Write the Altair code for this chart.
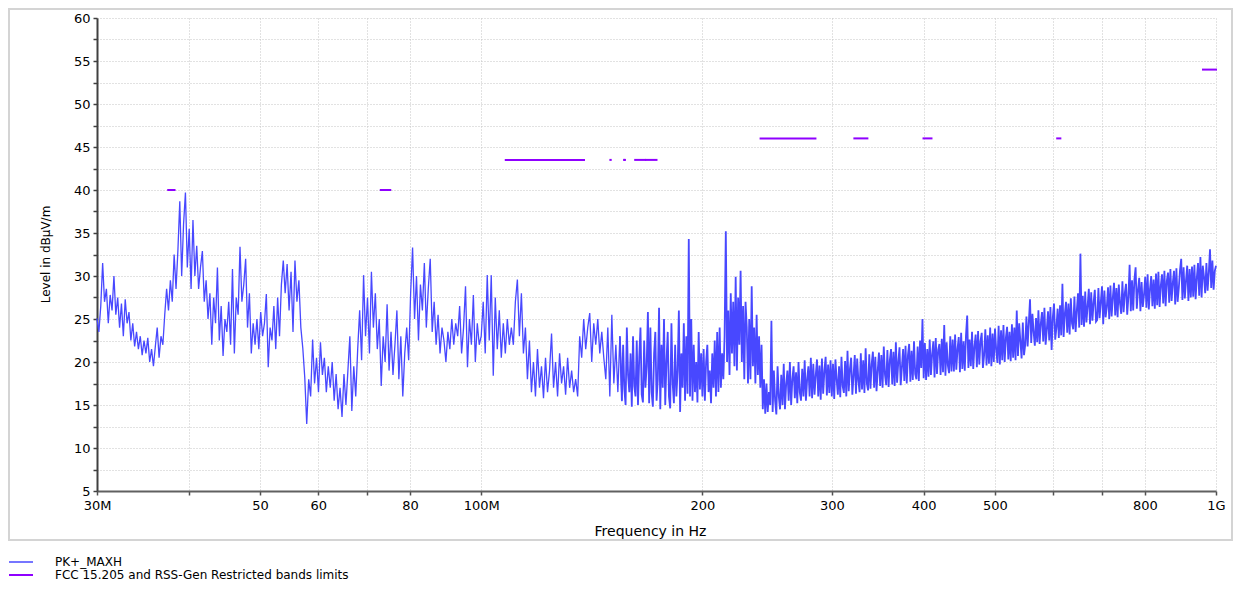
import altair as alt
import pandas as pd

# ---------------- data ----------------
# Sweep regions (MHz); the levels inside each region are read off the trace
region_bounds_mhz = [30, 54.1, 100, 155.4, 200, 300, 550, 1000]

levels_30_54 = [
    25, 23.5, 26.5, 31.5, 27, 28.5, 24.5, 27.8, 26, 30,
    25.5, 27.5, 24, 26.8, 23, 27.3, 24.5, 25.8, 22.5, 24.5,
    21.8, 23.5, 21.5, 23, 20.8, 22.5, 21, 22.8, 20, 21.5,
    19.5, 21.8, 24, 20.5, 23, 22, 25.5, 28.5, 26, 29.5,
    27, 32.5, 28.5, 33, 38.7, 30, 36, 39.7, 31, 35.5,
    28.5, 36.5, 30, 33.5, 28.5, 31, 32.9, 27, 29.5, 25,
    28, 22, 27.5, 24.5, 31, 22.5, 26.5, 20.7, 25, 23.5,
    27, 22, 30.8, 21, 27.5, 25.5, 33.4, 27, 29, 32,
    24, 28, 21, 24.5, 22, 25, 21.5, 25.8, 23, 24.5,
    27.9, 19.4, 24, 22.5, 26.5, 21.5, 27.5, 23, 29, 31.8,
]

levels_54_100 = [
    28, 31.4, 26, 30.5, 23.5, 31.8, 27, 29.5,
    24, 21.6, 18.2,
    12.8,
    18, 16, 22.6, 17.5, 20.5,
    16.5, 22.3, 18.5, 20.5, 16.5, 19.5, 17, 20,
    15.5, 18.6, 14.5, 17, 13.6, 18.6, 15,
    19, 23, 14.3, 19.5, 16, 21.5,
    26, 20.2, 30.1, 23, 27.5, 21, 30.5, 24, 28, 21.5,
    25, 17.2, 23, 20, 26.7, 19, 23.5, 18.5, 22, 26, 18, 23, 16, 21, 24,
    20.2, 28, 33.3, 25, 30, 22.5, 29, 26, 31.5, 24, 28.5, 32, 23.5, 27, 22, 25.5,
    21, 24, 22.5, 20, 23.5, 21.5, 25, 22, 24.5, 23, 26.5, 21, 24, 28.8, 19.4,
    25, 22, 27.8, 20, 24.5, 22,
]

levels_100_155 = [
    23, 27, 21, 30.1, 22.5, 30.1, 18.4, 27.5, 21.5, 26, 20.5,
    24.5, 21, 25, 22, 24,
    22, 27, 29.6, 23, 28,
    21, 24, 18, 22.5, 16.5,
    20, 16, 21.5, 17, 19.5, 15.8, 20.5, 16.5, 19, 23.3,
    17, 20, 16, 21, 17.5, 19.5, 16.2, 20.5, 17, 19,
    16.5, 18, 16,
    23, 20.5, 25, 21.5, 24, 25.7, 20, 24.5, 22, 25, 21, 23.5, 20.5,
    18, 24, 16, 25.5, 17.5, 22, 16.5, 23,
]

levels_155_200 = [
    15.5, 22, 16.8, 15, 24, 18.5, 16.5, 21, 14.8, 23,
    17.2, 16, 22.5, 15, 20.5, 24, 16.2, 15.3, 22.5, 17,
    19.5, 25.8, 15.2, 24, 16.5, 14.8, 21, 23.5, 15.5, 18,
    26.3, 14.5, 22, 17, 25, 15, 20, 23.5, 16, 14.6,
    24.5, 17.5, 15.2, 22, 16, 19, 26, 14.2, 21, 17,
    24.5, 15.5, 23, 16.3, 34.3, 16, 25, 15.5, 22, 16.5,
    20, 15.3, 23.5, 16.8, 21,
]

levels_200_300 = [
    16, 21.5, 15.5, 20, 22, 16.5, 19, 15.2, 21, 17, 22.5, 16,
    23.5, 16.5, 24, 17, 21, 18, 23,
    35.2,
    20, 26, 18.5, 28, 21, 27, 19.5, 29.9, 19, 27.5,
    22, 30.6, 20, 26.5, 18, 27, 24, 17.5, 25, 18,
    28.8, 19.5, 24, 17.5, 25.5, 18.5, 23, 17, 22,
    14.5, 18, 14, 17.5, 14.2, 16.5,
    15, 24.8,
    14.2, 19, 15.5, 13.9, 19.5, 16, 14.5, 18.5, 15, 19.8,
    14.5, 17.5, 19, 15.5, 20, 15, 18, 19.5, 15.8, 18.8,
    15.2, 20, 16.5, 15.5, 19.2, 16, 20.2, 15.5, 18, 19.5,
    16, 20.5, 15.8, 19.8, 16.2, 18.5, 20.3, 16, 19.6, 15.6,
    20.4, 16.3, 19, 20.6, 16.1, 19.7, 16.4, 20.2,
]

levels_300_550 = [
    16, 19.8, 15.7, 20.3, 18, 16.2, 19.5, 15.9, 20.6, 17.2,
    16.4, 20.1, 16, 21.3, 16.6, 19.2, 20.5, 16.2, 18.4, 20.8,
    16.3, 20.4, 17.8, 16.5, 21, 16.8, 20.2, 16.4, 21.6, 17.5,
    16.7, 20.9, 16.9, 19.8, 21.2, 17, 20.6, 16.6, 19, 21.1,
    17.2, 20.8, 17, 21.8, 18.5, 17.3, 21.4, 17.1, 20.2, 21.5,
    17.4, 21.2, 17.2, 22.3, 17.6, 20, 21.7, 17.3, 19.4, 21.5,
    17.8, 21.9, 17.5, 20.8, 22.1, 17.7, 21.3, 17.9, 22.4, 18.6,
    18, 21.8, 17.8, 22.5, 19.3, 25, 18.1, 22.2, 17.9, 21.5,
    18.3, 22.6, 18.5, 20.9, 22.4, 18.2, 22.8, 18.6, 21.4, 22.1,
    18.5, 22.7, 18.8, 24.3, 18.4, 22.3, 19.6, 18.7, 23, 18.9,
    22.6, 18.9, 23.2, 19.1, 21.5, 22.9, 18.8, 23.4, 19.2, 22.4,
    19, 23.1, 25.4, 19.3, 22.6, 19.5, 23.5, 19.2, 21.8, 23.2,
    19.4, 23.6, 19.7, 22.4, 23.4, 19.3, 20.8, 23.8, 19.6, 23.1,
    19.8, 24, 19.5, 23.3, 20, 23.9, 21.4, 19.9, 24.2, 19.7,
    23.7, 20.2, 24.3, 20, 22.8, 24.1, 20.3, 23.5, 20.1, 24.4,
    20.5, 24, 20.2, 26, 20.7, 24.5, 22.4, 20.4, 24.6, 20.8,
]

levels_550_1000 = [
    22, 25.3, 21.8, 24.6, 27.3, 22.2, 25.6, 23.5, 21.9, 25.1,
    22.3, 26, 22.1, 24.5, 25.8, 22.4, 26.3, 22, 23.8, 25.9,
    22.5, 26.4, 21.4, 25.2, 26.8, 22.6, 24, 26.2, 22.8, 26.6,
    23.1, 29.1, 22.9, 25.6, 27, 23.4, 26.8, 23.2, 27.4, 24.5,
    23.8, 27.6, 23.5, 26, 28, 24, 32.6, 24.3, 27.7, 24.1,
    28.2, 24.6, 26.5, 28.5, 24.4, 28.1, 24.8, 26.9, 28.4, 24.7,
    24.9, 28.6, 25.1, 27, 28.8, 24.4, 28.3, 25.2, 26.4, 28.7,
    25, 28.9, 25.3, 27.5, 29.2, 25.4, 28.6, 25.2, 29, 26.8,
    25.6, 29.4, 25.8, 28, 29.1, 25.5, 27.6, 31.3, 25.9, 29.5,
    26, 29.6, 31, 26.2, 28.4, 29.8, 25.9, 29.3, 26.4, 27.8,
    29.9, 26.3, 30.2, 26.1, 28.5, 30, 26.5, 29.6, 26.2, 30.3,
    26.6, 30.5, 26.4, 28.9, 30.2, 26.8, 30.6, 26.5, 29.4, 30.4,
    26.9, 30.8, 27.1, 29.2, 30.6, 26.7, 30.9, 27, 28.6, 30.7,
    32, 27.2, 31, 27.4, 29.5, 31.2, 27.1, 30.8, 27.5, 31.1,
    27.6, 31.3, 27.3, 29.8, 31.5, 27.7, 32.2, 27.5, 31.2, 29.9,
    28, 31.5, 28.3, 30.4, 33.1, 28.6, 31.8, 28.4, 30.6, 31.2,
]

# Restricted-band limit segments (MHz, dBuV/m)
limit_start_mhz = [37.5, 73, 74.8, 108, 149.9, 156.52475, 156.7, 162.0125, 167.72, 240, 322, 399.9, 608, 960]
limit_stop_mhz = [38.25, 74.6, 75.2, 138, 150.05, 156.52525, 156.9, 167.17, 173.2, 285, 335.4, 410, 614, 1000]
limit_level = [40, 40, 40, 43.5, 43.5, 43.5, 43.5, 43.5, 43.5, 46, 46, 46, 46, 54]

series_names = ["PK+_MAXH", "FCC 15.205 and RSS-Gen Restricted bands limits"]
series_colors = ["#4848ff", "#8f00ff"]

x_tick_values = [30, 40, 50, 60, 70, 80, 100, 200, 300, 400, 500, 600, 700, 800, 1000]
y_tick_values = [5, 7.5, 10, 12.5, 15, 17.5, 20, 22.5, 25, 27.5, 30, 32.5, 35, 37.5,
                 40, 42.5, 45, 47.5, 50, 52.5, 55, 57.5, 60]

# ---------------- build tables ----------------
regions = [levels_30_54, levels_54_100, levels_100_155, levels_155_200,
           levels_200_300, levels_300_550, levels_550_1000]
sparse_rows, dense_rows = [], []
for i, vals in enumerate(regions):
    lo, hi = region_bounds_mhz[i], region_bounds_mhz[i + 1]
    n = len(vals)
    denom = (n - 1) if i == len(regions) - 1 else n
    for j, v in enumerate(vals):
        row = {"freq": lo * (hi / lo) ** (j / denom), "level": v,
               "series": series_names[0], "seg": "trace"}
        if i < 3:
            sparse_rows.append(row)
        else:
            dense_rows.append(row)
# join the two parts of the trace
sparse_rows.append(dict(dense_rows[0]))
dense_rows.insert(0, dict(sparse_rows[-2]))

for k, (a, b, lv) in enumerate(zip(limit_start_mhz, limit_stop_mhz, limit_level)):
    sparse_rows.append({"freq": a, "level": lv, "series": series_names[1], "seg": f"lim{k}"})
    sparse_rows.append({"freq": b, "level": lv, "series": series_names[1], "seg": f"lim{k}"})
df_main = pd.DataFrame(sparse_rows)
df_dense = pd.DataFrame(dense_rows)

FONT = "DejaVu Sans"

legend_cfg = dict(orient="none", legendX=-89, legendY=537.5, title=None,
                  symbolType="stroke", symbolSize=576, clipHeight=13,
                  labelFont=FONT, labelFontSize=12, labelColor="#000000",
                  labelOffset=21, labelLimit=600, padding=0, rowPadding=0)

x_axis = alt.Axis(values=x_tick_values,
                  labelExpr="datum.value == 30 ? '30M' : datum.value == 100 ? '100M' : "
                            "datum.value == 1000 ? '1G' : "
                            "(indexof([40, 70, 600, 700], datum.value) >= 0 ? '' : '' + datum.value)",
                  grid=True, gridDash=[1, 2], gridColor="#c4c4c4", gridWidth=1,
                  tickColor="#505050", tickSize=4, tickWidth=1.5,
                  domainColor="#606060", domainWidth=2,
                  labelFont=FONT, labelFontSize=13, labelColor="#000000",
                  labelPadding=4, labelFlush=False, labelOverlap=False,
                  title="Frequency in Hz", titleFont=FONT, titleFontSize=14,
                  titleFontWeight="normal", titleColor="#000000",
                  titleX=553, titleY=40, titleAlign="center", titleBaseline="middle")

y_axis = alt.Axis(values=y_tick_values,
                  labelExpr="datum.value % 5 == 0 ? '' + datum.value : ''",
                  grid=True, gridDash=[1, 2], gridColor="#c4c4c4", gridWidth=1,
                  tickColor="#404040", tickSize=4, tickWidth=1.5,
                  domainColor="#404040", domainWidth=2,
                  labelFont=FONT, labelFontSize=13, labelColor="#000000",
                  labelPadding=3, labelOverlap=False,
                  title="Level in dBµV/m", titleFont=FONT, titleFontSize=12,
                  titleFontWeight="normal", titleColor="#000000",
                  titleX=-52, titleY=236, titleAngle=-90, titleAlign="center",
                  titleBaseline="middle")

x_enc = alt.X("freq:Q", scale=alt.Scale(type="log", domain=[30, 1000], nice=False), axis=x_axis)
y_enc = alt.Y("level:Q", scale=alt.Scale(domain=[5, 60], nice=False, zero=False), axis=y_axis)
color_enc = alt.Color("series:N", scale=alt.Scale(domain=series_names, range=series_colors),
                      legend=alt.Legend(**legend_cfg))

lines = alt.Chart(df_main).mark_line(strokeCap="square").encode(
    x=x_enc,
    y=y_enc,
    color=color_enc,
    strokeWidth=alt.StrokeWidth("series:N", scale=alt.Scale(domain=series_names, range=[1.3, 2]),
                                legend=alt.Legend(**legend_cfg)),
    detail="seg:N",
)

dense = alt.Chart(df_dense).mark_line(strokeWidth=1.8, strokeJoin="miter").encode(
    x=x_enc,
    y=y_enc,
    color=color_enc,
)

frame = alt.Chart(pd.DataFrame({"k": [0]})).mark_rect(
    filled=False, stroke="#d4d4d4", strokeWidth=2
).encode(x=alt.value(-88), x2=alt.value(1135), y=alt.value(-9), y2=alt.value(522))

chart = alt.layer(frame, dense, lines).properties(
    width=1119, height=473,
    autosize=alt.AutoSizeParams(type="none"),
    padding={"left": 89, "top": 10, "right": 18, "bottom": 93},
    background="#ffffff",
).configure_view(strokeWidth=0)

chart.save("out.html", embed_options={"renderer": "svg", "actions": False})
